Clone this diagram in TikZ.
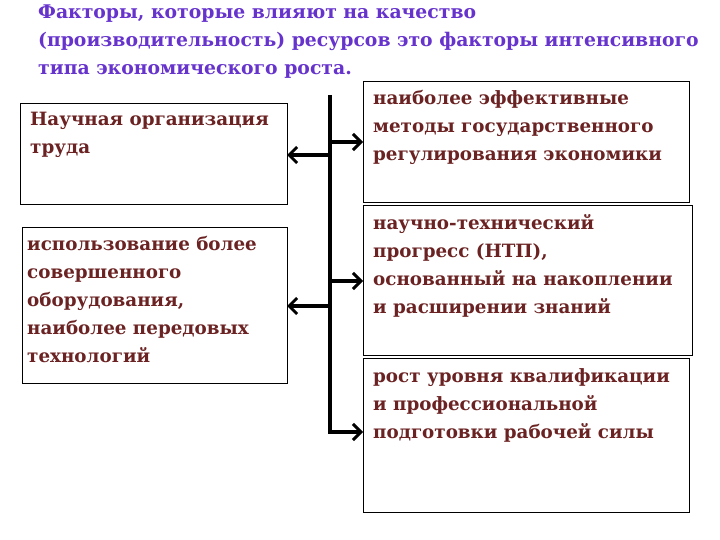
\documentclass[tikz,border=0pt]{standalone}
\usepackage{fontspec}
\setmainfont{DejaVu Serif}
\usetikzlibrary{arrows.meta}
\definecolor{ttl}{HTML}{6633CC}
\definecolor{btx}{HTML}{6B2222}
\begin{document}
\begin{tikzpicture}[x=1pt,y=-1pt,
 box/.style={draw,line width=1pt,fill=white},
 txt/.style={anchor=north west,align=left,text=btx,font=\fontsize{18.3}{28}\selectfont\bfseries,inner sep=0pt},
 arr/.style={line width=4pt,-{Straight Barb[length=8pt,width=16pt,line width=3pt]}}]
\useasboundingbox (0,0) rectangle (720,540);
\node[anchor=north west,align=left,text=ttl,font=\fontsize{18.8}{28}\selectfont\bfseries,inner sep=0pt] (title) at (38,5)
 {Факторы, которые влияют на качество\\(производительность) ресурсов это факторы интенсивного\\типа экономического роста.};
\draw[box] (20,104) rectangle (287,205); \coordinate (l1) at (287,155);
\draw[box] (22,228) rectangle (287,383); \coordinate (l2) at (287,306);
\draw[box] (363,82) rectangle (689,203); \coordinate (r1) at (363,142);
\draw[box] (363,206) rectangle (692,355); \coordinate (r2) at (363,281);
\draw[box] (363,358) rectangle (689,512); \coordinate (r3) at (363,432);
\node[txt] (t1) at (30,112) {Научная организация\\труда};
\node[txt] (t2) at (27,236) {использование более\\совершенного\\оборудования,\\наиболее передовых\\технологий};
\node[txt] (t3) at (373,90) {наиболее эффективные\\методы государственного\\регулирования экономики};
\node[txt] (t4) at (373,214) {научно-технический\\прогресс (НТП),\\основанный на накоплении\\и расширении знаний};
\node[txt] (t5) at (373,368) {рост уровня квалификации\\и профессиональной\\подготовки рабочей силы};
\coordinate (top) at (330,95); \coordinate (bot) at (330,432);
\draw[line width=4pt] (top) -- (bot);
\draw[arr] (330,155) -- (l1);
\draw[arr] (330,306) -- (l2);
\draw[arr] (330,142) -- (r1);
\draw[arr] (330,281) -- (r2);
\draw[arr] (328,432) -- (r3);
\end{tikzpicture}
\end{document}
